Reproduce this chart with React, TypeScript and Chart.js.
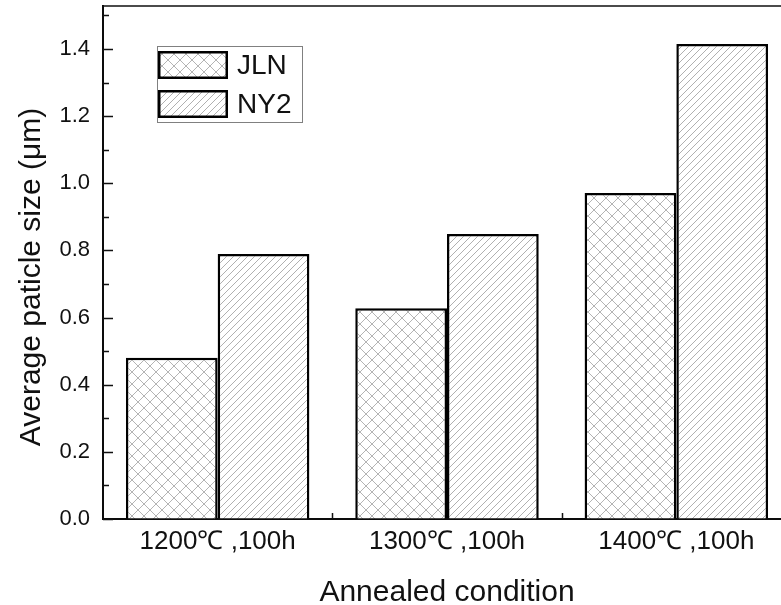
import React, { useEffect, useRef } from "react";
import { Chart, registerables } from "chart.js";

Chart.register(...registerables);

const categories = ["1200℃ ,100h", "1300℃ ,100h", "1400℃ ,100h"];
const seriesNames = ["JLN", "NY2"];
const jlnValues = [0.48, 0.628, 0.971];
const ny2Values = [0.789, 0.849, 1.415];
const yTicks = [0, 0.2, 0.4, 0.6, 0.8, 1.0, 1.2, 1.4];
const yMinorTicks = [0.1, 0.3, 0.5, 0.7, 0.9, 1.1, 1.3, 1.5];
const yMax = 1.528;
const xTitle = "Annealed condition";
const yTitle = "Average paticle size (μm)";

const FONT = "'Liberation Sans', Arial, sans-serif";

function crossPattern(ctx: CanvasRenderingContext2D): CanvasPattern | string {
  const s = 12;
  const c = document.createElement("canvas");
  c.width = s;
  c.height = s;
  const g = c.getContext("2d");
  if (!g) return "#ddd";
  g.fillStyle = "#fff";
  g.fillRect(0, 0, s, s);
  g.strokeStyle = "#b4b4b4";
  g.lineWidth = 1;
  g.beginPath();
  g.moveTo(-1, -1);
  g.lineTo(s + 1, s + 1);
  g.moveTo(-1, s + 1);
  g.lineTo(s + 1, -1);
  g.stroke();
  return ctx.createPattern(c, "repeat") || "#ddd";
}

function diagPattern(ctx: CanvasRenderingContext2D): CanvasPattern | string {
  const s = 7;
  const c = document.createElement("canvas");
  c.width = s;
  c.height = s;
  const g = c.getContext("2d");
  if (!g) return "#ddd";
  g.fillStyle = "#fff";
  g.fillRect(0, 0, s, s);
  g.strokeStyle = "#b0b0b0";
  g.lineWidth = 1;
  g.beginPath();
  g.moveTo(-1, 1);
  g.lineTo(1, -1);
  g.moveTo(-1, s + 1);
  g.lineTo(s + 1, -1);
  g.moveTo(s - 1, s + 1);
  g.lineTo(s + 1, s - 1);
  g.stroke();
  return ctx.createPattern(c, "repeat") || "#ddd";
}

const decorPlugin = {
  id: "decor",
  afterDraw(chart: any) {
    const { ctx, chartArea: a, scales } = chart;
    const y = scales.y;
    const x = scales.x;
    ctx.save();
    // frame
    ctx.strokeStyle = "#111";
    ctx.lineWidth = 1.5;
    ctx.strokeRect(a.left, a.top, a.right - a.left, a.bottom - a.top);
    // inward y ticks
    ctx.lineWidth = 1.5;
    ctx.beginPath();
    yTicks.forEach((v) => {
      const py = Math.round(y.getPixelForValue(v)) + 0.5;
      ctx.moveTo(a.left, py);
      ctx.lineTo(a.left + 10, py);
    });
    yMinorTicks.forEach((v) => {
      const py = Math.round(y.getPixelForValue(v)) + 0.5;
      ctx.moveTo(a.left, py);
      ctx.lineTo(a.left + 6, py);
    });
    // x boundary ticks
    for (let i = 0; i < categories.length - 1; i++) {
      const px = Math.round((x.getPixelForValue(i) + x.getPixelForValue(i + 1)) / 2) + 0.5;
      ctx.moveTo(px, a.bottom);
      ctx.lineTo(px, a.bottom - 6);
    }
    ctx.stroke();

    // titles
    ctx.fillStyle = "#111";
    ctx.font = `30px ${FONT}`;
    ctx.textAlign = "center";
    ctx.textBaseline = "alphabetic";
    ctx.fillText(xTitle, (a.left + a.right) / 2, 601);
    ctx.save();
    ctx.translate(40, 277);
    ctx.rotate(-Math.PI / 2);
    ctx.fillText(yTitle, 0, 0);
    ctx.restore();

    // legend
    ctx.strokeStyle = "#808080";
    ctx.lineWidth = 1;
    ctx.strokeRect(157.5, 46.5, 145, 76);
    const ds = chart.data.datasets;
    const rows = [52, 91];
    ds.forEach((d: any, i: number) => {
      const top = rows[i];
      ctx.fillStyle = d.backgroundColor;
      ctx.fillRect(159, top, 68, 26);
      ctx.strokeStyle = "#000";
      ctx.lineWidth = 2.5;
      ctx.strokeRect(159.25, top + 0.25, 67.5, 25.5);
      ctx.fillStyle = "#111";
      ctx.font = `28px ${FONT}`;
      ctx.textAlign = "left";
      ctx.textBaseline = "middle";
      ctx.fillText(d.label, 237, top + 14);
    });
    ctx.restore();
  },
};

export default function App() {
  const ref = useRef<HTMLCanvasElement | null>(null);

  useEffect(() => {
    const canvas = ref.current;
    if (!canvas) return;
    const ctx = canvas.getContext("2d");
    if (!ctx) return;
    const chart = new Chart(ctx, {
      type: "bar",
      data: {
        labels: categories,
        datasets: [
          {
            label: seriesNames[0],
            data: jlnValues,
            backgroundColor: crossPattern(ctx) as any,
            borderColor: "#000",
            borderWidth: 2.5,
            borderSkipped: "bottom",
            categoryPercentage: 0.8,
            barPercentage: 1.0,
          },
          {
            label: seriesNames[1],
            data: ny2Values,
            backgroundColor: diagPattern(ctx) as any,
            borderColor: "#000",
            borderWidth: 2.5,
            borderSkipped: "bottom",
            categoryPercentage: 0.8,
            barPercentage: 1.0,
          },
        ],
      },
      options: {
        animation: false,
        responsive: false,
        maintainAspectRatio: false,
        layout: { padding: { top: 6, right: 9, left: 0, bottom: 0 } },
        plugins: {
          legend: { display: false },
          tooltip: { enabled: false },
        },
        scales: {
          x: {
            type: "category",
            offset: true,
            grid: { display: false, drawTicks: false },
            border: { display: true, color: "#000", width: 2 },
            ticks: {
              font: { family: FONT, size: 26 },
              color: "#111",
              padding: 7,
              maxRotation: 0,
              autoSkip: false,
            },
            afterFit: (s: any) => {
              s.height = 86;
              s.paddingLeft = 0;
              s.paddingRight = 0;
            },
          },
          y: {
            min: 0,
            max: yMax,
            grid: { display: false, drawTicks: false },
            border: { display: true, color: "#000", width: 2 },
            ticks: {
              font: { family: FONT, size: 22 },
              color: "#111",
              padding: 13,
              callback: (v: any) => Number(v).toFixed(1),
            },
            afterBuildTicks: (s: any) => {
              s.ticks = yTicks.map((v) => ({ value: v }));
            },
            afterFit: (s: any) => {
              s.width = 103;
              s.paddingTop = 0;
              s.paddingBottom = 0;
            },
          },
        },
      },
      plugins: [decorPlugin],
    });
    return () => chart.destroy();
  }, []);

  return (
    <div
      style={{
        position: "fixed",
        left: 0,
        top: 0,
        width: 781,
        height: 605,
        overflow: "hidden",
        background: "#fff",
      }}
    >
      <canvas ref={ref} width={800} height={605} style={{ display: "block", width: 800, height: 605 }} />
    </div>
  );
}
